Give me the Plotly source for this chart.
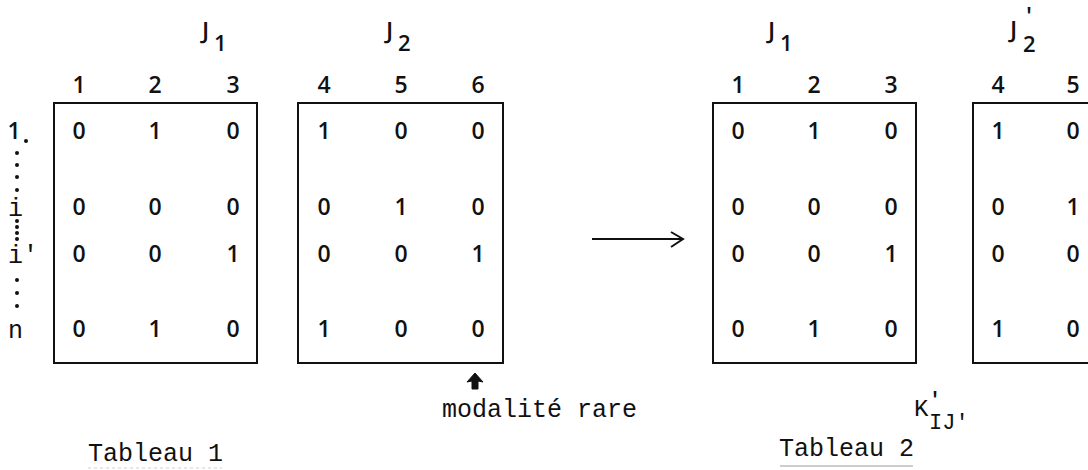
import plotly.graph_objects as go

# ---------------- data ----------------
row_labels = ["1", "i", "i'", "n"]

t1_j1_cols = ["1", "2", "3"]
t1_j2_cols = ["4", "5", "6"]
t1_j1 = [[0, 1, 0], [0, 0, 0], [0, 0, 1], [0, 1, 0]]
t1_j2 = [[1, 0, 0], [0, 1, 0], [0, 0, 1], [1, 0, 0]]

t2_j1_cols = ["1", "2", "3"]
t2_j2_cols = ["4", "5"]
t2_j1 = [[0, 1, 0], [0, 0, 0], [0, 0, 1], [0, 1, 0]]
t2_j2 = [[1, 0], [0, 1], [0, 0], [1, 0]]

# ---------------- layout constants ----------------
W, H = 1088, 470
row_y = [133, 209, 256, 331]
header_y = 87
box_top, box_bottom = 103, 363

blocks = [
    (t1_j1_cols, t1_j1, [79, 155, 233], 54, 257),
    (t1_j2_cols, t1_j2, [324, 401, 478], 298, 503),
    (t2_j1_cols, t2_j1, [738, 814, 891], 713, 916),
    (t2_j2_cols, t2_j2, [998, 1073], 973, 1130),
]

SANS = "Open Sans"
MONO = "Liberation Mono"
BLACK = "#111111"
DIGIT_FONT = dict(family=SANS, size=23, color=BLACK, weight=600)

fig = go.Figure()
shapes = []

for cols, mat, xs, x0, x1 in blocks:
    # headers
    fig.add_trace(go.Scatter(
        x=xs, y=[header_y] * len(xs), text=cols, mode="text",
        textfont=DIGIT_FONT,
        hoverinfo="skip", showlegend=False, cliponaxis=False))
    # cells
    cx, cy, ct = [], [], []
    for r, row in enumerate(mat):
        for c, v in enumerate(row):
            cx.append(xs[c]); cy.append(row_y[r]); ct.append(str(v))
    fig.add_trace(go.Scatter(
        x=cx, y=cy, text=ct, mode="text",
        textfont=DIGIT_FONT,
        hoverinfo="skip", showlegend=False, cliponaxis=False))
    shapes.append(dict(type="rect", xref="x", yref="y", x0=x0, x1=x1,
                       y0=box_top, y1=box_bottom,
                       line=dict(color=BLACK, width=2)))

# row labels
fig.add_trace(go.Scatter(
    x=[14], y=[row_y[0]], text=[row_labels[0]], mode="text",
    textfont=DIGIT_FONT,
    hoverinfo="skip", showlegend=False))
annotations = []
for lab, y in zip(row_labels[1:], row_y[1:]):
    annotations.append(dict(x=6, y=y, text=lab, xanchor="left", yanchor="middle",
                            showarrow=False,
                            font=dict(family=MONO, size=25, color=BLACK)))
# dotted ellipsis between row labels
dot_y = [141, 153, 165, 177, 190, 221, 227, 233, 239, 280, 293, 306]
dot_x = [26] + [17] * (len(dot_y) - 1)
fig.add_trace(go.Scatter(
    x=dot_x, y=dot_y, mode="markers",
    marker=dict(size=4, color=BLACK),
    hoverinfo="skip", showlegend=False))

def ann(x, y, text, family, size, weight=400):
    annotations.append(dict(x=x, y=y, text=text, xanchor="center", yanchor="middle",
                            showarrow=False,
                            font=dict(family=family, size=size, color=BLACK, weight=weight)))

# group labels J
ann(204, 29, "J", SANS, 24, 600); ann(220, 42, "1", SANS, 22, 600)
ann(388, 29, "J", SANS, 24, 600); ann(404, 42, "2", SANS, 22, 600)
ann(770, 29, "J", SANS, 24, 600); ann(786, 42, "1", SANS, 22, 600)
ann(1012, 28, "J", SANS, 24, 600); ann(1029, 16, "'", MONO, 20, 600); ann(1029, 43, "2", SANS, 22, 600)

# K'IJ'
ann(921, 409, "K", MONO, 24)
ann(935, 400, "'", MONO, 20, 600)
ann(949, 423, "IJ'", MONO, 22)

# captions
ann(539, 410, "modalité rare", MONO, 25)
ann(155, 454, "Tableau 1", MONO, 25)
ann(846, 449, "Tableau 2", MONO, 25)

# underlines
shapes.append(dict(type="line", xref="x", yref="y", x0=88, x1=222, y0=468, y1=468,
                   line=dict(color="#d0d0d0", width=1, dash="dot")))
shapes.append(dict(type="line", xref="x", yref="y", x0=780, x1=913, y0=466, y1=466,
                   line=dict(color="#9a9a9a", width=1)))

# transformation arrow
shapes.append(dict(type="line", xref="x", yref="y", x0=592, x1=682, y0=239, y1=239,
                   line=dict(color=BLACK, width=2)))
shapes.append(dict(type="path", xref="x", yref="y",
                   path="M 671 232 L 683 239 L 671 247",
                   line=dict(color=BLACK, width=2)))
# small up arrow
shapes.append(dict(type="path", xref="x", yref="y",
                   path="M 475 373 L 483 382 L 478 381 L 478 389 L 472 389 L 472 381 L 467 382 Z",
                   fillcolor=BLACK, line=dict(color=BLACK, width=1)))

fig.update_layout(
    width=W, height=H,
    margin=dict(l=0, r=0, t=0, b=0),
    paper_bgcolor="white", plot_bgcolor="white",
    xaxis=dict(range=[0, W], visible=False, fixedrange=True),
    yaxis=dict(range=[H, 0], visible=False, fixedrange=True),
    shapes=shapes, annotations=annotations,
    showlegend=False,
)

fig.write_html(
    "out.html",
    config={"displayModeBar": False, "staticPlot": True},
    post_script="document.body.style.margin='0';document.body.style.overflow='hidden';",
)
